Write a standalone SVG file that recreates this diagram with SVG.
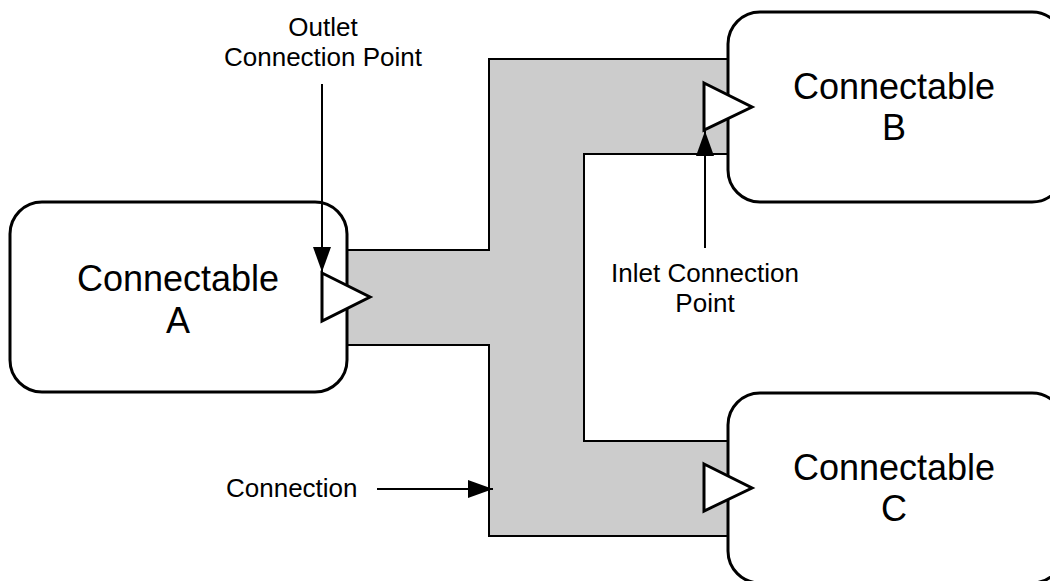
<svg xmlns="http://www.w3.org/2000/svg" width="1050" height="581" viewBox="0 0 1050 581">
<style>
.node{fill:#ffffff;stroke:#000000;stroke-width:3}
.port{fill:#ffffff;stroke:#000000;stroke-width:3;stroke-linejoin:miter}
.conn{fill:#cccccc;stroke:#000000;stroke-width:2}
.lead{fill:none;stroke:#000000;stroke-width:2}
.big{font-family:"Liberation Sans",Arial,sans-serif;font-size:36px;fill:#000000;text-anchor:middle}
.small{font-family:"Liberation Sans",Arial,sans-serif;font-size:26px;fill:#000000;text-anchor:middle}
.lbl{font-family:"Liberation Sans",Arial,sans-serif;font-size:26px;fill:#000000}
</style>
<defs>
<marker id="ah" markerUnits="userSpaceOnUse" markerWidth="26" markerHeight="20" refX="25" refY="9" orient="auto">
<path d="M0,0 L25,9 L0,18 Z" fill="#000000"/>
</marker>
</defs>
<g id="connectors">
<polygon id="connection" class="conn" points="347,250 489,250 489,59 728,59 728,154 584,154 584,441 728,441 728,536 489,536 489,345 347,345"/>
</g>
<g id="nodeA">
<rect class="node" x="10" y="202" width="337" height="190" rx="32" ry="32"/>
<text class="big" x="178" y="291">Connectable</text>
<text class="big" x="178" y="333">A</text>
<polygon class="port" points="322,273 370,297 322,321"/>
</g>
<g id="nodeB">
<rect class="node" x="728" y="12" width="336" height="190" rx="32" ry="32"/>
<text class="big" x="894" y="99">Connectable</text>
<text class="big" x="894" y="140">B</text>
<polygon class="port" points="704,83 752,107 704,130"/>
</g>
<g id="nodeC">
<rect class="node" x="728" y="393" width="336" height="190" rx="32" ry="32"/>
<text class="big" x="894" y="480">Connectable</text>
<text class="big" x="894" y="521">C</text>
<polygon class="port" points="704,464 752,488 704,511"/>
</g>
<g id="callouts">
<line class="lead" x1="322" y1="84" x2="322" y2="272" marker-end="url(#ah)"/>
<line class="lead" x1="705" y1="248" x2="705" y2="131" marker-end="url(#ah)"/>
<line class="lead" x1="377" y1="489" x2="493" y2="489" marker-end="url(#ah)"/>
</g>
<g id="labels">
<text class="small" x="323" y="36">Outlet</text>
<text class="small" x="323" y="66">Connection Point</text>
<text class="small" x="705" y="282">Inlet Connection</text>
<text class="small" x="705" y="312">Point</text>
<text class="lbl" x="226" y="497">Connection</text>
</g>
</svg>
